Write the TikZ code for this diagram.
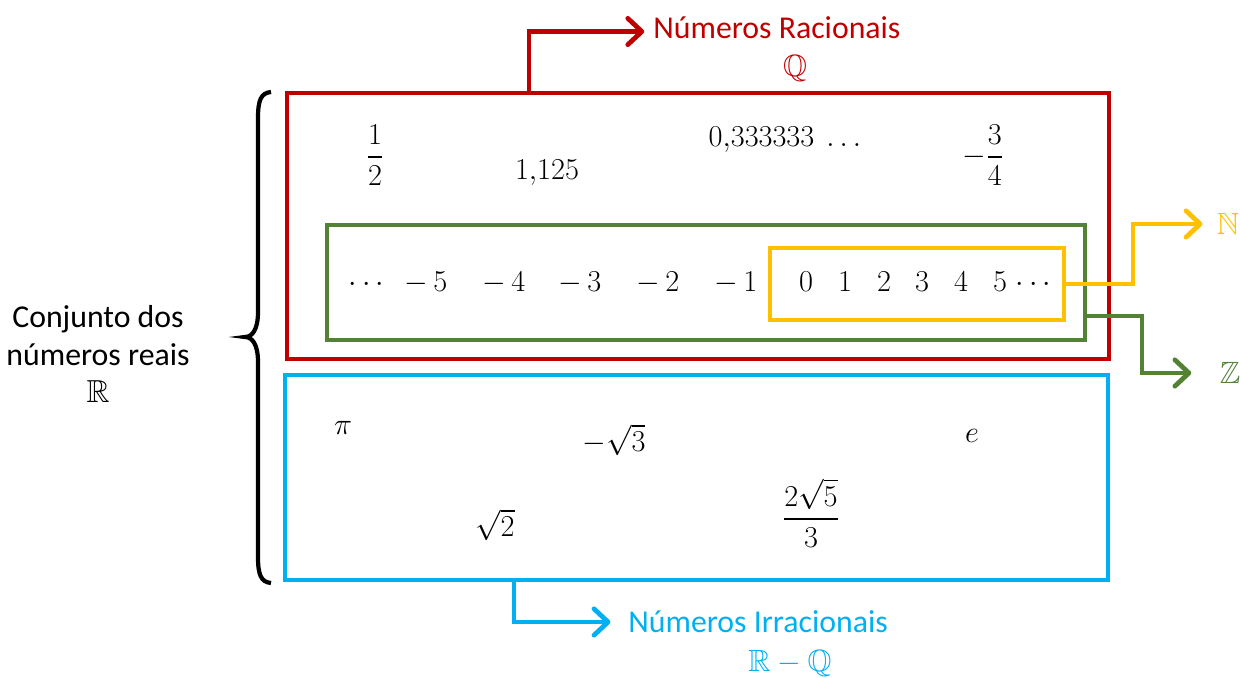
\documentclass[tikz,border=0pt]{standalone}
\usepackage{amsmath,amssymb}
\usepackage{fontspec}
\setmainfont{Carlito}
\usetikzlibrary{arrows.meta,fit}
\definecolor{cred}{HTML}{C00000}
\definecolor{cgreen}{HTML}{548235}
\definecolor{cyel}{HTML}{FFC000}
\definecolor{cblue}{HTML}{00B0F0}
\begin{document}
\begin{tikzpicture}[x=0.02cm,y=-0.02cm,
  setbox/.style={draw,line width=2.7pt,inner sep=0pt},
  conn/.style={line width=2.7pt,-{Straight Barb[length=8pt,width=15pt,round]}},
  lbl/.style={inner sep=0pt,font=\fontsize{18.1}{21.6}\selectfont},
  num/.style={inner sep=0pt,font=\fontsize{17.5}{21}\selectfont}]
\useasboundingbox (0,0) rectangle (1240,678);

% boxes
\node[setbox,draw=cred,fit={(287,93) (1109,359)}] (rac) {};
\node[setbox,draw=cgreen,fit={(327,225) (1085,340)}] (int) {};
\node[setbox,draw=cyel,fit={(770,248) (1064,320)}] (nat) {};
\node[setbox,draw=cblue,fit={(285,375) (1108,580)}] (irr) {};

% labels
\node[lbl,text=cred,anchor=west] (racT) at (653,28) {Números Racionais};
\node[num,text=cred] (racQ) at (795,68) {$\mathbb{Q}$};
\node[lbl,text=cblue,anchor=west] (irrT) at (628,622) {Números Irracionais};
\node[num,text=cblue] (irrRQ) at (790,663) {$\mathbb{R}-\mathbb{Q}$};
\node[num,text=cyel] (natN) at (1228,224) {$\mathbb{N}$};
\node[num,text=cgreen] (intZ) at (1230,373) {$\mathbb{Z}$};
\node[lbl,align=center] (real) at (98,354) {Conjunto dos\\números reais\\$\mathbb{R}$};

% connectors
\draw[conn,cred,shorten >=5pt] (529,0 |- rac.north) |- ([yshift=-2pt]racT.west);
\draw[conn,cblue,shorten >=10pt] (514,0 |- irr.south) |- (irrT.west);
\coordinate (gs) at (int.east |- 0,316);
\draw[conn,cgreen,shorten >=16pt] (gs) -- (1142,316) |- (intZ.west);
\draw[conn,cyel,shorten >=8pt] (nat.east) -- (1133,0 |- nat.east) |- (natN.west);

% brace
\draw[line width=2.4pt] (271,92) .. controls (261,93) and (258,100) .. (258,118)
  -- (258,312) .. controls (258,330) and (252,337) .. (245,337)
  .. controls (252,337) and (258,344) .. (258,362)
  -- (258,557) .. controls (258,575) and (261,582) .. (271,583);

% rationals
\node[num] (half) at (375,155) {$\dfrac{1}{2}$};
\node[num] (dec) at (547,173) {$1{,}125$};
\node[num] (per) at (785,140) {$0{,}333333\ \ldots$};
\node[num] (tq) at (983,155) {$-\dfrac{3}{4}$};

% integers
\foreach \x/\t [count=\i] in {369/\cdots,426/-\,5,504/-\,4,580/-\,3,658/-\,2,736/-\,1}
  \node[num,anchor=base] (z\i) at (\x,292) {$\t$};
\foreach \x/\t [count=\i] in {806/0,845/1,884/2,922/3,961/4,1000/5,1036/\cdots}
  \node[num,anchor=base] (n\i) at (\x,292) {$\t$};

% irrationals
\node[num] (pi) at (343,428) {$\pi$};
\node[num] (ms3) at (614,440) {$-\sqrt{3}$};
\node[num] (ee) at (972,436) {$e$};
\node[num] (s2) at (495,525) {$\sqrt{2}$};
\node[num] (f5) at (811,513) {$\dfrac{2\sqrt{5}}{3}$};
\end{tikzpicture}
\end{document}
